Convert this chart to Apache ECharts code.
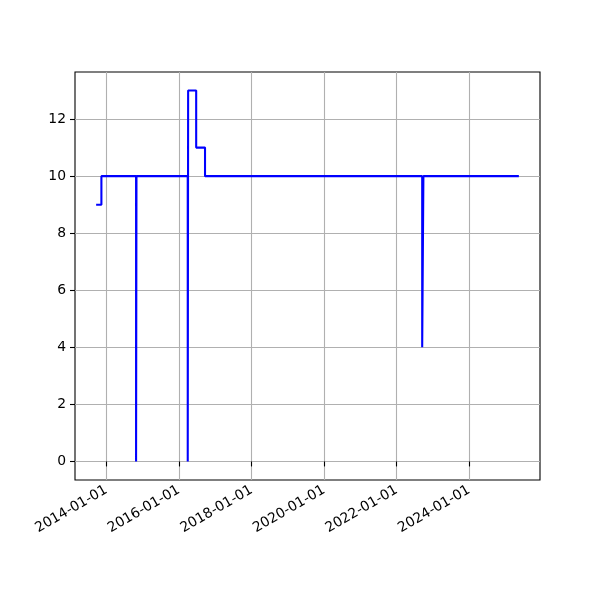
<!DOCTYPE html>
<html>
<head>
<meta charset="utf-8">
<script src="https://cdn.jsdelivr.net/npm/echarts@6/dist/echarts.min.js"></script>
<style>html,body{margin:0;padding:0;background:#fff}#c{width:600px;height:600px}</style>
</head>
<body>
<div id="c"></div>
<script>
// Data (step-post: value holds from its date until the next date)
var dates = ['2013-09-20','2013-11-12','2014-10-27','2014-10-31','2016-03-30','2016-04-03','2016-06-23','2016-09-20','2022-09-15','2022-09-27','2025-05-15'];
var values = [9, 10, 0, 10, 0, 13, 11, 10, 4, 10, 10];
var xTickLabels = ['2014-01-01','2016-01-01','2018-01-01','2020-01-01','2022-01-01','2024-01-01'];
var yTicks = [0, 2, 4, 6, 8, 10, 12];

function ts(s){ var p = s.split('-'); return Date.UTC(+p[0], +p[1]-1, +p[2]); }
var seriesData = dates.map(function(d, i){ return [ts(d), values[i]]; });
var xTickVals = xTickLabels.map(ts);

var x0 = ts(dates[0]), x1 = ts(dates[dates.length-1]);
var xm = (x1 - x0) * 0.05;
var ymin = Math.min.apply(null, values), ymax = Math.max.apply(null, values);
var ym = (ymax - ymin) * 0.05;

function fmt(v){
  var d = new Date(v);
  var m = d.getUTCMonth()+1, day = d.getUTCDate();
  return d.getUTCFullYear() + '-' + (m<10?'0':'') + m + '-' + (day<10?'0':'') + day;
}

var FONT = 'DejaVu Sans';
var chart = echarts.init(document.getElementById('c'), null, {renderer:'canvas'});
chart.setOption({
  animation: false,
  backgroundColor: '#fff',
  grid: { left: 75, right: 60, top: 72, bottom: 120, show: true, borderColor: '#000', borderWidth: 1.1, backgroundColor: 'transparent' },
  xAxis: {
    type: 'value',
    min: x0 - xm, max: x1 + xm,
    axisLine: { show: false },
    axisTick: { show: true, length: 5, lineStyle: { color: '#000', width: 1.1 }, customValues: xTickVals },
    axisLabel: { show: true, customValues: xTickVals, formatter: function(v){ return fmt(v); }, rotate: 30, margin: 9, color: '#000', fontFamily: FONT, fontSize: 13.9 },
    splitLine: { show: true, lineStyle: { color: '#b0b0b0', width: 1.1 } }
  },
  yAxis: {
    type: 'value',
    min: ymin - ym, max: ymax + ym,
    axisLine: { show: false },
    axisTick: { show: true, length: 5, lineStyle: { color: '#000', width: 1.1 }, customValues: yTicks },
    axisLabel: { show: true, customValues: yTicks, margin: 9, color: '#000', fontFamily: FONT, fontSize: 13.9 },
    splitLine: { show: true, lineStyle: { color: '#b0b0b0', width: 1.1 } }
  },
  series: [{
    type: 'line',
    step: 'end',
    data: seriesData,
    showSymbol: false,
    lineStyle: { color: '#0000ff', width: 2.08 },
    itemStyle: { color: '#0000ff' }
  }]
});
</script>
</body>
</html>
